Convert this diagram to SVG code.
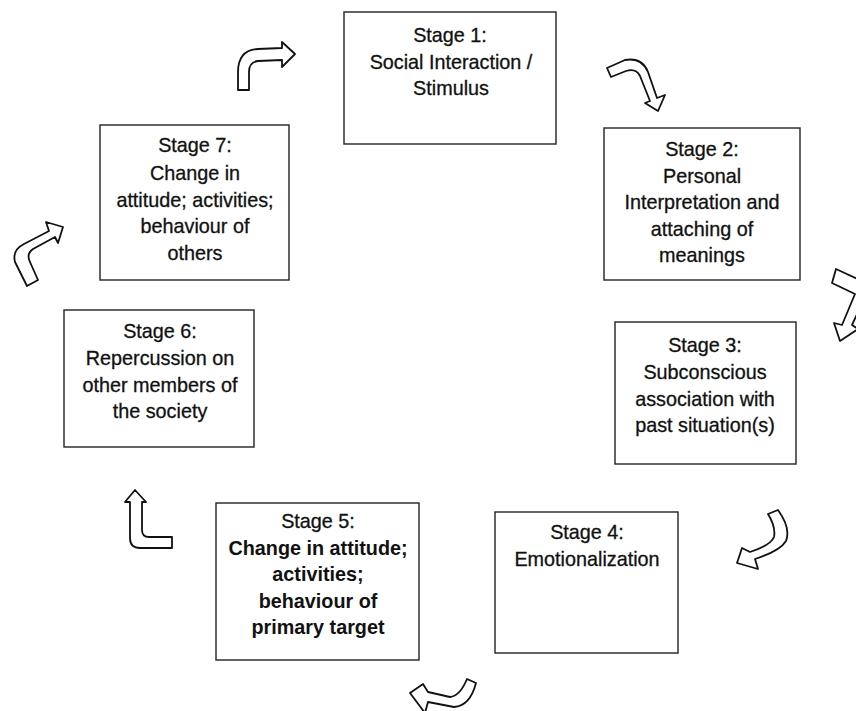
<svg xmlns="http://www.w3.org/2000/svg" width="856" height="711" viewBox="0 0 856 711">
<style>
.box{fill:#fff;stroke:#222;stroke-width:1.4}
.t{font-family:"Liberation Sans",Arial,sans-serif;font-size:19.8px;fill:#111;stroke:#111;stroke-width:0.3;text-anchor:middle}
.b{font-weight:bold;stroke-width:0}
.arr{fill:#fff;stroke:#111;stroke-width:1.8;stroke-linejoin:round}
</style>
<rect width="856" height="711" fill="#fff"/>
<g id="stage1">
<rect class="box" x="344" y="12" width="212" height="132"/>
<text class="t" x="450" y="42">Stage 1:</text>
<text class="t" x="451" y="68.5">Social Interaction /</text>
<text class="t" x="451" y="95">Stimulus</text>
</g>
<g id="stage2">
<rect class="box" x="604" y="128" width="196" height="152"/>
<text class="t" x="702" y="156">Stage 2:</text>
<text class="t" x="702" y="182.5">Personal</text>
<text class="t" x="702" y="209">Interpretation and</text>
<text class="t" x="702" y="235.5">attaching of</text>
<text class="t" x="702" y="262">meanings</text>
</g>
<g id="stage3">
<rect class="box" x="615" y="322" width="181" height="142"/>
<text class="t" x="705" y="352">Stage 3:</text>
<text class="t" x="705" y="379">Subconscious</text>
<text class="t" x="705" y="406">association with</text>
<text class="t" x="705" y="432">past situation(s)</text>
</g>
<g id="stage4">
<rect class="box" x="495" y="512" width="183" height="141"/>
<text class="t" x="587" y="539">Stage 4:</text>
<text class="t" x="587" y="566">Emotionalization</text>
</g>
<g id="stage5">
<rect class="box" x="216" y="503" width="203" height="157"/>
<text class="t" x="318" y="528">Stage 5:</text>
<text class="t b" x="318" y="555">Change in attitude;</text>
<text class="t b" x="318" y="581">activities;</text>
<text class="t b" x="318" y="608">behaviour of</text>
<text class="t b" x="318" y="634">primary target</text>
</g>
<g id="stage6">
<rect class="box" x="64" y="310" width="190" height="137"/>
<text class="t" x="160" y="338">Stage 6:</text>
<text class="t" x="160" y="365">Repercussion on</text>
<text class="t" x="160" y="391.5">other members of</text>
<text class="t" x="160" y="418">the society</text>
</g>
<g id="stage7">
<rect class="box" x="100" y="125" width="189" height="155"/>
<text class="t" x="195" y="152">Stage 7:</text>
<text class="t" x="195" y="180">Change in</text>
<text class="t" x="195" y="207">attitude; activities;</text>
<text class="t" x="195" y="233">behaviour of</text>
<text class="t" x="195" y="260">others</text>
</g>
<g id="connectors">
<path class="arr" d="M238,90 L238,72 Q238,50 258,49 L282,48 L282,42 L295,54 L282,67 L282,60 L258,61 Q249,62 249,72 L249,90 Z"/>
<path class="arr" d="M607,68 L625,60 Q642,57 648,72 L657,98 L665,95 L658,111 L645,103 L650,101 L640,76 Q636,68 626,71 L611,77 Z"/>
<path class="arr" d="M836,269 L862,281 Q870,286 866,295 L852,325 L858,329 L840,341 L834,323 L842,325 L855,294 L832,283 Z"/>
<path class="arr" d="M768,514 L778,510 Q791,528 786,541 Q780,551 755,559 L758,569 L737,563 L742,548 L750,552 Q771,545 774,537 Q776,527 768,514 Z"/>
<path class="arr" d="M467,679 L476,683 Q470,706 454,707 L428,702 L425,713 L410,693 L423,684 L428,692 L450,697 Q460,696 467,679 Z"/>
<path class="arr" d="M135,490 L146,502 L142,502 L142,530 Q142,537 149,537 L172,537 L172,548 L140,548 Q130,548 130,538 L130,502 L125,502 Z"/>
<path class="arr" d="M27,286 L15,262 Q12,250 24,244 L49,231 L46,222 L63,227 L58,243 L55,237 L33,249 Q26,254 30,262 L38,280 Z"/>
</g>
</svg>
